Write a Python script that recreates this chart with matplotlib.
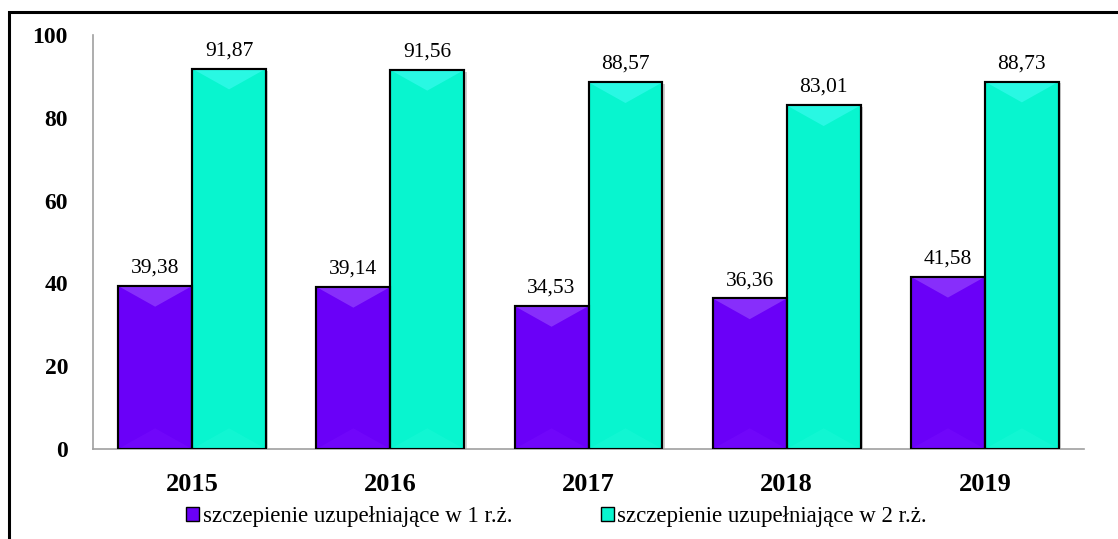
import matplotlib as mpl
mpl.use('Agg')
import matplotlib.pyplot as plt
from matplotlib.patches import Rectangle, Polygon

years = ['2015', '2016', '2017', '2018', '2019']
dose_1 = [39.38, 39.14, 34.53, 36.36, 41.58]
dose_2 = [91.87, 91.56, 88.57, 83.01, 88.73]
series_names = ['szczepienie uzupełniające w 1 r.ż.',
                'szczepienie uzupełniające w 2 r.ż.']

purple = '#6a00f8'
purple_top = '#a055ff'
purple_bot = '#7a10ff'
teal = '#08f5cf'
teal_top = '#45fbf5'
teal_bot = '#20fad8'

plt.rcParams['font.family'] = ['Liberation Serif', 'DejaVu Serif']

fig = plt.figure(figsize=(11.18, 5.39), dpi=100)
ax = fig.add_axes([93 / 1118, 1 - 449 / 539, (1084 - 93) / 1118, (449 - 35) / 539])

width = 0.373
x = range(len(years))


def bevel(ax, bars, top_color, bot_color):
    '''Lighter triangles at top and bottom of every bar (office 3D look).'''
    for b in bars:
        x0, w, h = b.get_x(), b.get_width(), b.get_height()
        d = 5.0
        ax.add_patch(Polygon([(x0, h), (x0 + w, h), (x0 + w / 2, h - d)],
                             closed=True, facecolor=top_color, edgecolor='none',
                             alpha=0.55, zorder=3))
        ax.add_patch(Polygon([(x0, 0), (x0 + w, 0), (x0 + w / 2, d)],
                             closed=True, facecolor=bot_color, edgecolor='none',
                             alpha=0.4, zorder=3))


def shadow(ax, bars):
    for b in bars:
        x0, w, h = b.get_x(), b.get_width(), b.get_height()
        ax.add_patch(Rectangle((x0 + w, 0), 0.012, h * 0.995,
                               facecolor='#b0b0b0', edgecolor='none',
                               alpha=0.6, zorder=1))


bars1 = ax.bar([i - width / 2 for i in x], dose_1, width, color=purple,
               edgecolor='black', linewidth=1.5, zorder=2)
bars2 = ax.bar([i + width / 2 for i in x], dose_2, width, color=teal,
               edgecolor='black', linewidth=1.5, zorder=2)
shadow(ax, bars2)
bevel(ax, bars1, purple_top, purple_bot)
bevel(ax, bars2, teal_top, teal_bot)
# redraw outlines on top of the bevels
for b in list(bars1) + list(bars2):
    ax.add_patch(Rectangle((b.get_x(), 0), b.get_width(), b.get_height(),
                           fill=False, edgecolor='black', linewidth=1.5, zorder=4))

for bars, vals in ((bars1, dose_1), (bars2, dose_2)):
    for b, v in zip(bars, vals):
        ax.annotate('{:.2f}'.format(v).replace('.', ','),
                    (b.get_x() + b.get_width() / 2, v),
                    xytext=(0, 6), textcoords='offset points',
                    ha='center', va='bottom', fontsize=15.5)

ax.set_xlim(-0.5, len(years) - 0.5)
ax.set_ylim(0, 100)
ax.set_yticks([0, 20, 40, 60, 80, 100])
ax.set_xticks(list(x))
ax.set_xticklabels(years, fontsize=19, fontweight='bold')
ax.tick_params(axis='y', length=0, pad=18, labelsize=17)
ax.tick_params(axis='x', length=0, pad=17)
for lab in ax.get_yticklabels():
    lab.set_fontweight('bold')

for s in ('top', 'right'):
    ax.spines[s].set_visible(False)
for s in ('left', 'bottom'):
    ax.spines[s].set_color('#a0a0a0')
    ax.spines[s].set_linewidth(1.2)

# outer frame (only top and left edges fall inside the image)
fig.patches.append(Rectangle((9 / 1118, -0.2), 1.2, 1 - 12 / 539 + 0.2,
                             transform=fig.transFigure, fill=False,
                             edgecolor='black', linewidth=2.2))

handles = [Rectangle((0, 0), 1, 1, facecolor=purple, edgecolor='black', linewidth=1),
           Rectangle((0, 0), 1, 1, facecolor=teal, edgecolor='black', linewidth=1)]
fig.legend(handles, series_names, loc='center', bbox_to_anchor=(0.498, 0.041),
           ncol=2, frameon=False, fontsize=16.5, handlelength=0.55,
           handleheight=0.55, handletextpad=0.15, columnspacing=3.9)

fig.savefig('out.png', dpi=100)
